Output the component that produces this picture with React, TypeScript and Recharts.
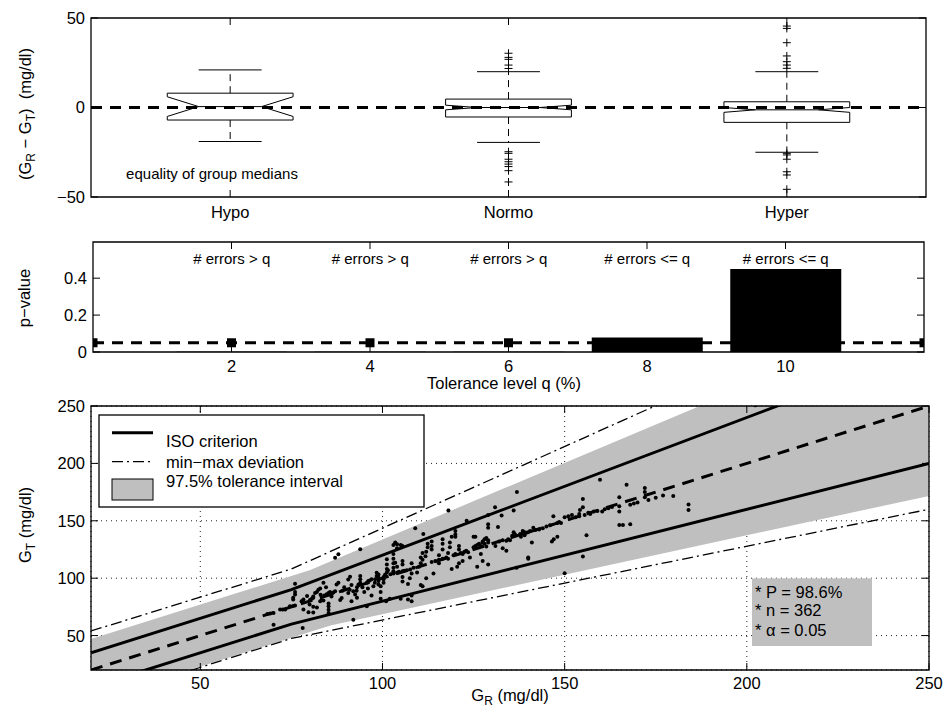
import React from 'react';
import {
  ComposedChart, XAxis, YAxis, Line, Scatter, Bar, Area,
  ReferenceLine, ReferenceArea, CartesianGrid, LabelList,
} from 'recharts';

const FONT = '"Liberation Sans", Arial, Helvetica, sans-serif';
const FS = 16.5;

// ---------------- Panel 1: notched box plots ----------------
const boxCategories = ['Hypo', 'Normo', 'Hyper'];
const boxQ1 = [-7, -5.3, -8.3];
const boxQ3 = [8, 4.7, 3.2];
const boxMedian = [0.5, 0, -1.3];
const boxNotchLow = [-5, -1.3, -2.7];
const boxNotchHigh = [6, 1.3, 0];
const boxWhiskerLow = [-19, -19.5, -25];
const boxWhiskerHigh = [21, 20, 20];
const hypoOutliers: number[] = [];
const normoOutliers = [30.3, 28, 26.9, 23.7, 21.8, -24.7, -25.6, -28.9, -30.3, -31.6, -33, -35.3, -41.6];
const hyperOutliers = [45.5, 44.2, 36.2, 28.8, 25.6, 23.7, 21.9, -25.6, -26.5, -28.9, -35.9, -37.7, -45.7];
const boxTicks = [-50, 0, 50];

// ---------------- Panel 2: p-values ----------------
const qLevels = [2, 4, 6, 8, 10];
const pValues = [0.001, 0.001, 0.001, 0.078, 0.45];
const errorLabels = ['# errors > q', '# errors > q', '# errors > q', '# errors <= q', '# errors <= q'];
const alphaX = [0, 2, 4, 6, 8, 10, 12];
const alphaLevel = 0.05;
const pTicks = [0, 0.2, 0.4];

// ---------------- Panel 3: scatter ----------------
const isoX = [20, 75, 250];
const isoUpper = [35, 90, 300];
const isoLower = [5, 60, 200];
const mmX = [20, 75, 250];
const mmUpper = [54, 108, 357];
const mmLower = [-8, 47.5, 160];
const tolX = [20, 80, 86, 250];
const tolUpper = [47, 107, 115, 334];
const tolLower = [-7, 53, 59, 171.7];
const identityX = [20, 250];
const gTicks = [50, 100, 150, 200, 250];

const scatterPoints: [number, number][] = [
  [68.4, 68.8], [69.2, 69.3], [70.1, 69.7], [70.1, 59.4], [71.9, 72.6], [72.6, 72.6], [73.3, 72.8],
  [74.6, 75.5], [75.5, 75.8], [76, 76.1], [75.5, 81.4], [76, 85.8], [76, 88], [76, 95.1], [75.5, 83],
  [77.8, 80], [78.3, 81.4], [78.3, 72.6], [79.7, 70.3], [81, 70], [78.1, 56.5], [80.1, 81], [80.6, 82],
  [81, 83], [79.3, 84.5], [80, 77], [81, 75], [82, 74.5],
  [81, 84], [81.5, 87], [82, 88], [82.4, 90], [82.9, 91], [83.8, 96], [82.9, 80], [83.3, 81], [83.8, 80.5],
  [84.7, 86], [85.2, 87], [85.6, 88], [86.1, 86.5], [86.5, 87.5], [87, 88.7], [85.2, 69.7], [85.2, 72.5],
  [85.2, 75.5], [85.2, 78], [87.4, 94.5], [87.9, 96], [87, 117.9], [87.9, 120.8], [88.4, 81], [88.8, 82.8],
  [84, 85], [84.5, 92], [83, 85.5], [86, 84], [89, 89], [89.5, 92],
  [90.6, 87], [91, 90], [91.5, 94], [92, 88.5], [90.6, 98.9], [91.1, 101.3], [92.5, 85.8], [92.9, 89],
  [93, 92], [93.4, 94.5], [93.9, 125.2], [93.9, 96], [93.9, 99], [93.9, 101.8], [95.7, 96], [96.1, 97.5],
  [96.5, 98], [97, 99], [97.5, 93], [97.9, 96], [98, 99], [98.4, 102], [98.4, 104.8], [98.9, 94.5],
  [98.9, 97.5], [98.9, 100.5], [98.9, 103.3], [92, 63.8], [95.7, 75.5], [94.5, 92], [95, 88], [96, 91],
  [97, 85], [99.5, 82], [99.5, 88], [99.5, 93], [91.5, 80], [93, 83],
  [100.3, 96], [100.3, 99], [100.3, 101], [100.7, 103], [101.2, 105], [101.2, 108], [101.2, 112],
  [101.2, 116.5], [101.5, 106.8], [102.2, 103.4], [103, 104], [103, 105], [103, 106], [103, 109],
  [103, 113], [103, 117], [103, 121], [103.5, 113.5], [104, 104.8], [104, 110], [103.5, 131.1], [103, 129],
  [104, 129.5], [105, 129], [105.5, 128], [104, 126], [104.5, 105.5], [105.5, 106], [106, 106.5],
  [106.7, 107], [107.6, 107.5], [105.5, 97], [105.5, 101], [105.5, 115], [105.5, 112], [107, 95],
  [107.5, 100], [108, 104], [108, 113], [108.5, 109], [107, 81.4], [108, 80], [108, 85], [102, 82],
  [101, 80], [105, 82], [109, 143.4],
  [109.5, 105], [110, 110], [110.5, 113], [110.5, 118], [111, 122], [111, 116], [110.5, 94], [111, 93],
  [111.2, 138.4], [111.8, 119], [112, 123], [112.4, 127], [112.4, 130], [113.5, 125], [113.5, 128],
  [113.5, 132], [113.5, 114], [114.5, 115], [115.5, 113], [115.5, 116], [115.5, 120], [116.5, 117],
  [116.5, 125], [116.5, 130], [116.5, 134], [117.5, 118], [118, 117], [118, 122], [118.5, 127],
  [118.5, 131], [119, 136], [118.1, 158.9], [119.5, 120], [120, 121], [120, 136], [120, 138], [120, 141],
  [120.5, 110], [121, 113], [121, 125], [121, 128], [119, 108], [112, 100], [114, 104],
  [121.5, 122], [122, 121], [122.5, 123], [123, 124], [123.1, 150], [123.5, 122.5], [125, 127],
  [125.5, 128], [126, 129], [126.5, 130], [127, 128], [127.5, 131], [128, 130], [128.5, 127.5], [129, 131],
  [125, 136], [125.5, 136], [126, 110], [127.5, 115], [129, 112], [127, 121], [127.5, 132], [128, 134],
  [128.5, 135], [129, 133], [129, 144], [129, 147], [129, 155], [124, 118], [122, 115],
  [130.9, 161.8], [131.7, 144.6], [132, 132], [133, 133], [134, 132.5], [134.5, 134], [135, 133],
  [132.7, 154.5], [134, 123.8], [135.6, 137], [136, 140], [136.4, 138], [136, 158.9], [136.8, 109],
  [136.9, 175], [137.8, 138.5], [138.5, 139], [139, 140], [139.5, 139.5], [140, 140], [140, 118],
  [140, 117], [141, 131], [140.5, 141], [141.4, 144], [138, 136], [138.5, 141], [139, 137.5], [133, 126],
  [131, 128],
  [142, 142], [143, 142.5], [144, 143.5], [145, 145], [146, 146], [146.5, 132], [147, 134], [148, 136],
  [146.9, 154], [148, 148], [148.5, 149], [149, 148], [150, 153], [151, 154], [152, 155], [153, 153],
  [154, 156], [150, 104.2], [154.2, 159.5], [155, 161.8], [155, 169], [155, 118.9], [156, 137.5],
  [154, 154], [155.5, 155], [156.5, 157], [157, 156], [158, 158], [159, 158.5], [160.3, 158], [159.7, 185.8],
  [161, 160], [162, 161], [163, 162], [165, 158], [165, 162.7], [165, 170.6], [165, 146.3], [166, 146.3],
  [168, 147], [167, 181.4], [168, 164], [169, 165], [170, 166], [172, 170.6], [172, 175], [172, 178.5],
  [173, 168], [175, 170], [177, 172], [179.8, 171.5], [184, 159.5], [184, 164.1], [202.3, 250.7],
];

// ---------------- derived tables ----------------
const HALF_BOX = 0.226;
const HALF_NOTCH = 0.113;
type Pt = { x: number; y: number | null };

const boxOutlineData: Pt[] = boxCategories.flatMap((_, i) => {
  const c = i + 0.5;
  const hi = Math.min(boxNotchHigh[i], boxQ3[i]);
  const lo = Math.max(boxNotchLow[i], boxQ1[i]);
  return [
    { x: c - HALF_BOX, y: boxQ3[i] }, { x: c + HALF_BOX, y: boxQ3[i] }, { x: c + HALF_BOX, y: hi },
    { x: c + HALF_NOTCH, y: boxMedian[i] }, { x: c + HALF_BOX, y: lo }, { x: c + HALF_BOX, y: boxQ1[i] },
    { x: c - HALF_BOX, y: boxQ1[i] }, { x: c - HALF_BOX, y: lo }, { x: c - HALF_NOTCH, y: boxMedian[i] },
    { x: c - HALF_BOX, y: hi }, { x: c - HALF_BOX, y: boxQ3[i] }, { x: c, y: null },
  ];
});
const whiskerData: Pt[] = boxCategories.flatMap((_, i) => {
  const c = i + 0.5;
  return [
    { x: c, y: boxQ3[i] }, { x: c, y: boxWhiskerHigh[i] }, { x: c, y: null },
    { x: c, y: boxQ1[i] }, { x: c, y: boxWhiskerLow[i] }, { x: c, y: null },
  ];
});
const capData: Pt[] = boxCategories.flatMap((_, i) => {
  const c = i + 0.5;
  return [
    { x: c - HALF_NOTCH, y: boxWhiskerHigh[i] }, { x: c + HALF_NOTCH, y: boxWhiskerHigh[i] }, { x: c, y: null },
    { x: c - HALF_NOTCH, y: boxWhiskerLow[i] }, { x: c + HALF_NOTCH, y: boxWhiskerLow[i] }, { x: c, y: null },
    { x: c - HALF_NOTCH, y: boxMedian[i] }, { x: c + HALF_NOTCH, y: boxMedian[i] }, { x: c, y: null },
  ];
});
const outlierData = [hypoOutliers, normoOutliers, hyperOutliers].flatMap((arr, i) =>
  arr.map((v) => ({ x: i + 0.5, y: v })),
);

const barData = qLevels.map((q, i) => ({ x: q, y: pValues[i], label: errorLabels[i] }));
const alphaData = alphaX.map((x) => ({ x, y: alphaLevel }));

const isoUpperData = isoX.map((x, i) => ({ x, y: isoUpper[i] }));
const isoLowerData = isoX.map((x, i) => ({ x, y: isoLower[i] }));
const mmUpperData = mmX.map((x, i) => ({ x, y: mmUpper[i] }));
const mmLowerData = mmX.map((x, i) => ({ x, y: mmLower[i] }));
const tolData = tolX.map((x, i) => ({ x, band: [tolLower[i], tolUpper[i]] }));
const identityData = identityX.map((x) => ({ x, y: x }));
const pointData = scatterPoints.map(([x, y]) => ({ x, y }));

// ---------------- tick renderers ----------------
const fmtNum = (v: number) => (v < 0 ? '\u2212' + String(-v) : String(v));

function makeXTick(plotH: number, labelDy: number, fmt: (v: number) => string) {
  return (props: any) => {
    const { x, y, payload } = props;
    return (
      <g>
        <line x1={x} x2={x} y1={y} y2={y - 7} stroke="#000" strokeWidth={1} />
        <line x1={x} x2={x} y1={y - plotH} y2={y - plotH + 7} stroke="#000" strokeWidth={1} />
        <text x={x} y={y + labelDy} textAnchor="middle" fontFamily={FONT} fontSize={FS} fill="#000">
          {fmt(payload.value)}
        </text>
      </g>
    );
  };
}
function makeYTick(plotW: number, fmt: (v: number) => string) {
  return (props: any) => {
    const { x, y, payload } = props;
    return (
      <g>
        <line x1={x} x2={x + 7} y1={y} y2={y} stroke="#000" strokeWidth={1} />
        <line x1={x + plotW} x2={x + plotW - 7} y1={y} y2={y} stroke="#000" strokeWidth={1} />
        <text x={x - 6} y={y} dy="0.36em" textAnchor="end" fontFamily={FONT} fontSize={FS} fill="#000">
          {fmt(payload.value)}
        </text>
      </g>
    );
  };
}

const plusShape = (p: any) => (
  <path d={`M${p.cx - 4},${p.cy}h8M${p.cx},${p.cy - 4}v8`} stroke="#000" strokeWidth={1} fill="none" />
);
const dotShape = (p: any) => <circle cx={p.cx} cy={p.cy} r={2} fill="#000" />;
const squareDot = (p: any) => (
  <rect key={`sq-${p.index}`} x={p.cx - 4.5} y={p.cy - 4.5} width={9} height={9} fill="#000" />
);

const errLabel = (p: any) => (
  <text x={p.x + p.width / 2} y={44} textAnchor="middle" fontFamily={FONT} fontSize={15} fill="#000">
    {p.value}
  </text>
);

const axisCommon = { tickLine: false, axisLine: false, tickSize: 0, tickMargin: 0, interval: 0 as const, allowDataOverflow: true };

function RotLabel({ x, y, children }: { x: number; y: number; children: React.ReactNode }) {
  return (
    <text transform="rotate(-90)" x={-y} y={x} textAnchor="middle" fontFamily={FONT} fontSize={FS} fill="#000" style={{ whiteSpace: 'pre' }}>
      {children}
    </text>
  );
}

export default function App() {
  return (
    <div style={{ position: 'absolute', left: 0, top: 0, width: 944, height: 710, background: '#fff', fontFamily: FONT }}>
      {/* Panel 1 */}
      <div style={{ position: 'absolute', left: 0, top: 0 }}>
        <ComposedChart width={944} height={230} margin={{ top: 18, right: 18, bottom: 0, left: 0 }}>
          <XAxis dataKey="x" type="number" domain={[0, 3]} ticks={[0.5, 1.5, 2.5]} height={33} {...axisCommon}
            tick={makeXTick(179, 21, (v) => boxCategories[Math.floor(v)])} />
          <YAxis dataKey="y" type="number" domain={[-50, 50]} ticks={boxTicks} width={91} {...axisCommon}
            tick={makeYTick(835, fmtNum)} />
          <ReferenceLine y={0} stroke="#000" strokeWidth={2.8} strokeDasharray="11 8" />
          <Line data={whiskerData} dataKey="y" type="linear" stroke="#000" strokeWidth={1} strokeDasharray="7 5"
            dot={false} activeDot={false} connectNulls={false} isAnimationActive={false} />
          <Line data={boxOutlineData} dataKey="y" type="linear" stroke="#000" strokeWidth={1}
            dot={false} activeDot={false} connectNulls={false} isAnimationActive={false} />
          <Line data={capData} dataKey="y" type="linear" stroke="#000" strokeWidth={1}
            dot={false} activeDot={false} connectNulls={false} isAnimationActive={false} />
          <Scatter data={outlierData} shape={plusShape} isAnimationActive={false} />
          <ReferenceArea x1={0} x2={3} y1={-50} y2={50} fill="none" stroke="#000" strokeWidth={1.3} />
          <text x={212} y={179} textAnchor="middle" fontFamily={FONT} fontSize={15} fill="#000">equality of group medians</text>
          <RotLabel x={31} y={114}>
            <tspan>(G</tspan><tspan dy={4} fontSize={12}>R</tspan><tspan dy={-4}> {'\u2212'} G</tspan>
            <tspan dy={4} fontSize={12}>T</tspan><tspan dy={-4}>)  (mg/dl)</tspan>
          </RotLabel>
        </ComposedChart>
      </div>

      {/* Panel 2 */}
      <div style={{ position: 'absolute', left: 0, top: 220 }}>
        <ComposedChart width={944} height={180} data={barData} margin={{ top: 22, right: 20, bottom: 0, left: 0 }}>
          <XAxis dataKey="x" type="number" domain={[0, 12]} ticks={qLevels} height={48} {...axisCommon}
            tick={makeXTick(110, 20, (v) => String(v))} />
          <YAxis dataKey="y" type="number" domain={[0, 0.596]} ticks={pTicks} width={93} {...axisCommon}
            tick={makeYTick(831, (v) => String(v))} />
          <Line data={alphaData} dataKey="y" type="linear" stroke="#000" strokeWidth={2.8} strokeDasharray="11 8"
            dot={squareDot} activeDot={false} isAnimationActive={false} />
          <Bar dataKey="y" fill="#000" barSize={111} isAnimationActive={false}>
            <LabelList dataKey="label" content={errLabel} />
          </Bar>
          <ReferenceArea x1={0} x2={12} y1={0} y2={0.596} fill="none" stroke="#000" strokeWidth={1.3} />
          <text x={504} y={169} textAnchor="middle" fontFamily={FONT} fontSize={FS} fill="#000">Tolerance level q (%)</text>
          <RotLabel x={30} y={78}>p{'\u2212'}value</RotLabel>
        </ComposedChart>
      </div>

      {/* Panel 3 */}
      <div style={{ position: 'absolute', left: 0, top: 395 }}>
        <ComposedChart width={944} height={315} margin={{ top: 11, right: 15, bottom: 0, left: 0 }}>
          <CartesianGrid stroke="#222" strokeDasharray="1 4" strokeWidth={1} />
          <XAxis dataKey="x" type="number" domain={[20, 250]} ticks={gTicks} height={40} {...axisCommon}
            tick={makeXTick(264, 19, (v) => String(v))} />
          <YAxis dataKey="y" type="number" domain={[20, 250]} ticks={gTicks} width={91} {...axisCommon}
            tick={makeYTick(838, (v) => String(v))} />
          <Area data={tolData} dataKey="band" type="linear" fill="#bfbfbf" fillOpacity={1} stroke="none"
            dot={false} activeDot={false} isAnimationActive={false} />
          <Line data={mmUpperData} dataKey="y" type="linear" stroke="#000" strokeWidth={1.3} strokeDasharray="11 4 2 4"
            dot={false} activeDot={false} isAnimationActive={false} />
          <Line data={mmLowerData} dataKey="y" type="linear" stroke="#000" strokeWidth={1.3} strokeDasharray="11 4 2 4"
            dot={false} activeDot={false} isAnimationActive={false} />
          <Line data={identityData} dataKey="y" type="linear" stroke="#000" strokeWidth={3} strokeDasharray="12 8"
            dot={false} activeDot={false} isAnimationActive={false} />
          <Line data={isoUpperData} dataKey="y" type="linear" stroke="#000" strokeWidth={3}
            dot={false} activeDot={false} isAnimationActive={false} />
          <Line data={isoLowerData} dataKey="y" type="linear" stroke="#000" strokeWidth={3}
            dot={false} activeDot={false} isAnimationActive={false} />
          <Scatter data={pointData} shape={dotShape} isAnimationActive={false} />
          <ReferenceArea x1={20} x2={250} y1={20} y2={250} fill="none" stroke="#000" strokeWidth={1.3} />

          {/* legend */}
          <g>
            <rect x={99} y={20} width={325} height={92} fill="#fff" stroke="#000" strokeWidth={1.3} />
            <line x1={112} x2={153} y1={37.7} y2={37.7} stroke="#000" strokeWidth={3} />
            <line x1={112} x2={153} y1={66.7} y2={66.7} stroke="#000" strokeWidth={1.3} strokeDasharray="11 4 2 4" />
            <rect x={112} y={84} width={41} height={21} fill="#bfbfbf" stroke="#000" strokeWidth={1} />
            <text x={166} y={52} fontFamily={FONT} fontSize={FS} fill="#000">ISO criterion</text>
            <text x={166} y={72.5} fontFamily={FONT} fontSize={FS} fill="#000">min{'\u2212'}max deviation</text>
            <text x={166} y={92} fontFamily={FONT} fontSize={FS} fill="#000">97.5% tolerance interval</text>
          </g>
          {/* annotation */}
          <g>
            <rect x={752} y={183.3} width={120} height={67.7} fill="#bfbfbf" />
            <text x={755} y={203} fontFamily={FONT} fontSize={FS} fill="#000">* P = 98.6%</text>
            <text x={755} y={221} fontFamily={FONT} fontSize={FS} fill="#000">* n = 362</text>
            <text x={755} y={241} fontFamily={FONT} fontSize={FS} fill="#000">* {'\u03b1'} = 0.05</text>
          </g>
          <text x={510} y={306} textAnchor="middle" fontFamily={FONT} fontSize={FS} fill="#000">
            G<tspan dy={4} fontSize={12}>R</tspan><tspan dy={-4}> (mg/dl)</tspan>
          </text>
          <RotLabel x={31} y={130}>
            <tspan>G</tspan><tspan dy={4} fontSize={12}>T</tspan><tspan dy={-4}> (mg/dl)</tspan>
          </RotLabel>
        </ComposedChart>
      </div>
    </div>
  );
}
